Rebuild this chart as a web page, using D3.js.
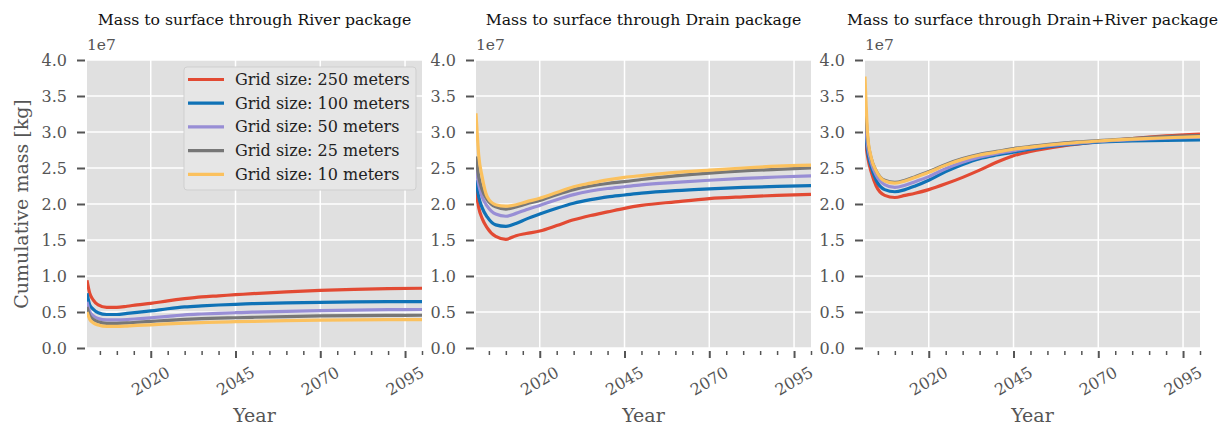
<!DOCTYPE html>
<html>
<head>
<meta charset="utf-8">
<script src="https://cdn.jsdelivr.net/npm/d3@7/dist/d3.min.js"></script>
<style>
  body { margin: 0; background: #fff; }
  text { font-family: "DejaVu Serif", serif; }
</style>
</head>
<body>
<svg id="chart" width="1230" height="427"></svg>
<script>
// time axis (decimal years) shared by all three panels
const years = [2001.2, 2002, 2003, 2004.5, 2007, 2010, 2013, 2016, 2020, 2025, 2030, 2035, 2040, 2045, 2050, 2060, 2070, 2080, 2090, 2100];

const gridSizes = ["Grid size: 250 meters", "Grid size: 100 meters", "Grid size: 50 meters", "Grid size: 25 meters", "Grid size: 10 meters"];
const panelTitles = ["Mass to surface through River package", "Mass to surface through Drain package", "Mass to surface through Drain+River package"];

// cumulative mass, units of 1e7 kg, one row per grid size
const riverMass = [
  [0.94, 0.76, 0.67, 0.60, 0.565, 0.565, 0.58, 0.60, 0.62, 0.655, 0.685, 0.71, 0.725, 0.74, 0.755, 0.78, 0.80, 0.815, 0.825, 0.83],
  [0.76, 0.60, 0.54, 0.49, 0.465, 0.465, 0.48, 0.495, 0.515, 0.545, 0.57, 0.585, 0.597, 0.607, 0.615, 0.627, 0.635, 0.64, 0.643, 0.645],
  [0.64, 0.505, 0.45, 0.41, 0.39, 0.39, 0.395, 0.405, 0.42, 0.44, 0.46, 0.472, 0.482, 0.49, 0.497, 0.51, 0.52, 0.527, 0.532, 0.535],
  [0.57, 0.45, 0.40, 0.365, 0.343, 0.343, 0.348, 0.358, 0.37, 0.385, 0.398, 0.408, 0.415, 0.42, 0.426, 0.437, 0.445, 0.45, 0.453, 0.455],
  [0.50, 0.40, 0.35, 0.32, 0.30, 0.30, 0.305, 0.313, 0.322, 0.335, 0.345, 0.353, 0.36, 0.365, 0.37, 0.38, 0.388, 0.392, 0.394, 0.395]
];
const drainMass = [
  [2.19, 1.95, 1.80, 1.67, 1.55, 1.51, 1.56, 1.59, 1.625, 1.70, 1.78, 1.84, 1.89, 1.94, 1.98, 2.03, 2.075, 2.10, 2.12, 2.135],
  [2.33, 2.10, 1.95, 1.82, 1.71, 1.69, 1.73, 1.79, 1.86, 1.94, 2.01, 2.06, 2.10, 2.125, 2.15, 2.185, 2.21, 2.23, 2.245, 2.255],
  [2.52, 2.27, 2.10, 1.97, 1.86, 1.83, 1.87, 1.92, 1.98, 2.06, 2.13, 2.18, 2.215, 2.24, 2.265, 2.30, 2.33, 2.355, 2.375, 2.39],
  [2.66, 2.38, 2.20, 2.06, 1.96, 1.93, 1.96, 2.00, 2.05, 2.13, 2.20, 2.25, 2.285, 2.31, 2.34, 2.39, 2.43, 2.46, 2.48, 2.50],
  [3.26, 2.68, 2.38, 2.10, 1.99, 1.97, 1.99, 2.03, 2.08, 2.16, 2.24, 2.29, 2.335, 2.37, 2.395, 2.44, 2.47, 2.50, 2.525, 2.54]
];
const bothMass = [
  [2.92, 2.65, 2.45, 2.25, 2.12, 2.09, 2.12, 2.15, 2.20, 2.28, 2.37, 2.47, 2.58, 2.67, 2.73, 2.81, 2.865, 2.91, 2.945, 2.97],
  [3.07, 2.72, 2.52, 2.33, 2.20, 2.17, 2.20, 2.25, 2.33, 2.45, 2.55, 2.63, 2.68, 2.72, 2.76, 2.82, 2.86, 2.875, 2.885, 2.89],
  [3.20, 2.80, 2.58, 2.40, 2.27, 2.23, 2.26, 2.31, 2.38, 2.49, 2.58, 2.65, 2.70, 2.74, 2.78, 2.83, 2.87, 2.895, 2.915, 2.93],
  [3.45, 2.90, 2.64, 2.46, 2.33, 2.30, 2.33, 2.38, 2.45, 2.55, 2.63, 2.69, 2.73, 2.77, 2.80, 2.85, 2.88, 2.91, 2.935, 2.95],
  [3.77, 2.95, 2.65, 2.46, 2.32, 2.29, 2.32, 2.37, 2.44, 2.54, 2.62, 2.68, 2.72, 2.76, 2.79, 2.84, 2.875, 2.90, 2.92, 2.935]
];

const yTicks = [0, 0.5, 1.0, 1.5, 2.0, 2.5, 3.0, 3.5, 4.0];
const xMajor = [2020, 2045, 2070, 2095];
const xMinor = [2005, 2010, 2015, 2025, 2030, 2035, 2040, 2050, 2055, 2060, 2065, 2075, 2080, 2085, 2090, 2100];

const colors = ["#E24A33", "#0F72B6", "#988ED5", "#777777", "#FBC15E"];

const svg = d3.select("#chart");
const panelLeft = [87, 476, 865];
const pw = 335, plotTop = 60, ph = 288;

const x = d3.scaleLinear().domain(d3.extent(years)).range([0, pw]);
const y = d3.scaleLinear().domain([0, 4]).range([ph, 0]);

const line = d3.line()
  .x((d, i) => x(years[i]))
  .y(d => y(d))
  .curve(d3.curveMonotoneX);

[riverMass, drainMass, bothMass].forEach((mass, p) => {
  const g = svg.append("g").attr("transform", `translate(${panelLeft[p]},${plotTop})`);

  g.append("rect").attr("width", pw).attr("height", ph).attr("fill", "#E0E0E0");

  // gridlines
  g.append("g").selectAll("line").data(yTicks).enter().append("line")
    .attr("x1", 0).attr("x2", pw)
    .attr("y1", d => y(d)).attr("y2", d => y(d))
    .attr("stroke", "#fff").attr("stroke-width", 1.5);
  g.append("g").selectAll("line").data(xMajor).enter().append("line")
    .attr("x1", d => x(d)).attr("x2", d => x(d))
    .attr("y1", 0).attr("y2", ph)
    .attr("stroke", "#fff").attr("stroke-width", 1.5);

  // y axis
  const yAxis = g.append("g").attr("transform", "translate(-2,0)")
    .call(d3.axisLeft(y).tickValues(yTicks).tickSize(8).tickPadding(10).tickFormat(d3.format(".1f")));
  yAxis.select(".domain").remove();
  yAxis.selectAll("line").attr("stroke", "#555").attr("stroke-width", 2);
  yAxis.selectAll("text").attr("fill", "#555").style("font-size", "16px");

  // x axis, major + minor ticks
  const xAxis = g.append("g").attr("transform", `translate(0,${ph + 3})`)
    .call(d3.axisBottom(x).tickValues(xMajor).tickSize(7).tickFormat(""));
  xAxis.select(".domain").remove();
  xAxis.selectAll("line").attr("stroke", "#555").attr("stroke-width", 2);
  const xMin = g.append("g").attr("transform", `translate(0,${ph + 3})`)
    .call(d3.axisBottom(x).tickValues(xMinor).tickSize(4).tickFormat(""));
  xMin.select(".domain").remove();
  xMin.selectAll("line").attr("stroke", "#555").attr("stroke-width", 1.5);

  g.append("g").selectAll("text").data(xMajor).enter().append("text")
    .attr("transform", d => `translate(${x(d)},${ph + 33}) rotate(-30)`)
    .attr("text-anchor", "middle").attr("dominant-baseline", "central")
    .attr("fill", "#555").style("font-size", "16px")
    .text(d => d);

  // series
  g.append("clipPath").attr("id", "clip" + p)
    .append("rect").attr("width", pw).attr("height", ph);
  g.append("g").attr("clip-path", `url(#clip${p})`)
    .selectAll("path").data(mass).enter().append("path")
    .attr("d", line)
    .attr("fill", "none")
    .attr("stroke", (d, i) => colors[i])
    .attr("stroke-width", 3.2)
    .attr("stroke-linejoin", "round");

  // titles and labels
  g.append("text").attr("x", pw / 2).attr("y", -35)
    .attr("text-anchor", "middle").attr("fill", "#111").style("font-size", "15.7px")
    .text(panelTitles[p]);
  g.append("text").attr("x", 0).attr("y", -10)
    .attr("fill", "#555").style("font-size", "15.5px").text("1e7");
  g.append("text").attr("x", pw / 2).attr("y", ph + 74)
    .attr("text-anchor", "middle").attr("fill", "#555").style("font-size", "19px")
    .text("Year");

  if (p === 0) {
    g.append("text")
      .attr("transform", `translate(-66,${ph / 2}) rotate(-90)`)
      .attr("text-anchor", "middle").attr("dominant-baseline", "central")
      .attr("fill", "#555").style("font-size", "19px")
      .text("Cumulative mass [kg]");

    const leg = g.append("g").attr("transform", "translate(97,7)");
    leg.append("rect").attr("width", 232).attr("height", 123).attr("rx", 3)
      .attr("fill", "#E6E6E6").attr("stroke", "#CFCFCF");
    gridSizes.forEach((name, i) => {
      const ly = 12.5 + i * 23.7;
      leg.append("line").attr("x1", 4).attr("x2", 40).attr("y1", ly).attr("y2", ly)
        .attr("stroke", colors[i]).attr("stroke-width", 3.2);
      leg.append("text").attr("x", 51).attr("y", ly)
        .attr("dominant-baseline", "central").attr("fill", "#222").style("font-size", "16px")
        .text(name);
    });
  }
});
</script>
</body>
</html>
